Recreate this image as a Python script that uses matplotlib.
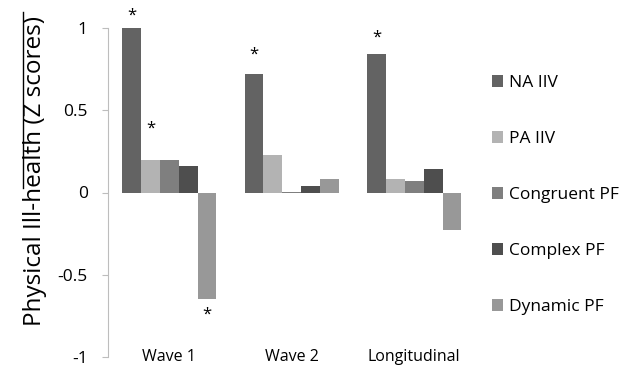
import matplotlib.pyplot as plt
from matplotlib.lines import Line2D
import numpy as np

plt.rcParams['font.family'] = ['Open Sans', 'DejaVu Sans']

# categories and series
waves = ["Wave 1", "Wave 2", "Longitudinal"]
series = ["NA IIV", "PA IIV", "Congruent PF", "Complex PF", "Dynamic PF"]
na_iiv = [1.0, 0.72, 0.84]
pa_iiv = [0.2, 0.23, 0.08]
congruent_pf = [0.2, 0.005, 0.07]
complex_pf = [0.16, 0.04, 0.14]
dynamic_pf = [-0.65, 0.08, -0.23]
colors = ["#636363", "#b3b3b3", "#7f7f7f", "#4e4e4e", "#989898"]

# significant bars: (wave index, series index, offset of the star from bar end)
stars = [(0, 0, 0.075), (0, 1, 0.19), (0, 4, -0.09), (1, 0, 0.12), (2, 0, 0.10)]

values = [na_iiv, pa_iiv, congruent_pf, complex_pf, dynamic_pf]

fig = plt.figure(figsize=(6.39, 3.68), dpi=100)
ax = fig.add_axes([108 / 639, 1 - 357 / 368, 367.5 / 639, 329 / 368])

x = np.arange(len(waves))
w = 0.771 / len(series)
for i, (name, vals, col) in enumerate(zip(series, values, colors)):
    ax.bar(x + (i - 2) * w, vals, width=w, color=col, label=name, linewidth=0)

for wi, si, off in stars:
    v = values[si][wi]
    ax.text(x[wi] + (si - 2) * w, v + off, "*", ha="center", va="center", fontsize=12)

ax.set_xlim(-0.5, len(waves) - 0.5)
ax.set_ylim(-1, 1)
ax.set_yticks([-1, -0.5, 0, 0.5, 1])
ax.set_yticklabels(["-1", "-0.5", "0", "0.5", "1"])
ax.set_xticks([])
for s in ["top", "right", "bottom"]:
    ax.spines[s].set_visible(False)
ax.spines["left"].set_color("#bdbdbd")
ax.tick_params(axis="y", length=4.5, color="#bdbdbd", pad=10, labelsize=12.5)

for xi, lab in zip(x, waves):
    ax.text(xi, -1, lab, ha="center", va="center", fontsize=11.5, clip_on=False)

fig.text(35 / 639, 1 - 171 / 368, "Physical Ill-health (Z scores)", rotation=90,
         ha="center", va="center", fontsize=17.5)
fig.add_artist(Line2D([23.3 / 639, 23.3 / 639], [1 - 12 / 368, 1 - 188 / 368],
                      color="black", linewidth=1))

ax.legend(loc="center left", bbox_to_anchor=(492 / 639, 1 - 195 / 368),
          bbox_transform=fig.transFigure, frameon=False, fontsize=12.5,
          handlelength=0.65, handleheight=0.65, handletextpad=0.35,
          labelspacing=2.3, borderpad=0, borderaxespad=0)

fig.savefig("out.png", dpi=100)
